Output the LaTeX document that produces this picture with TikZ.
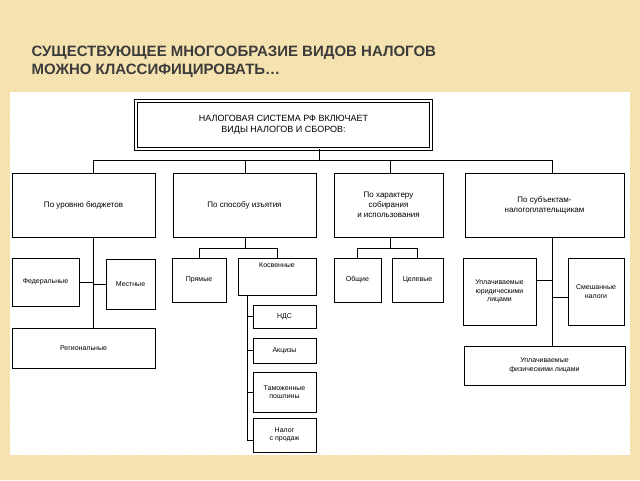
\documentclass[tikz,border=0pt]{standalone}
\usepackage{fontspec}
\setmainfont{Liberation Sans}
\usetikzlibrary{patterns,calc}
\definecolor{bg}{HTML}{F3DC9C}
\definecolor{ttl}{HTML}{3C3C3C}
\begin{document}
\begin{tikzpicture}[x=1pt,y=-1pt,
 bx/.style={draw,thick,align=center,font=\fontsize{7}{8.5}\selectfont,inner sep=1pt},
 big/.style={font=\fontsize{8}{10}\selectfont},
 ln/.style={thick}]
\useasboundingbox (0,0) rectangle (640,480);
\fill[bg] (0,0) rectangle (640,480);
\fill[pattern=north east lines,pattern color=white!60!bg] (0,0) rectangle (640,480);
\fill[white] (10,92) rectangle (630,455);
\node[anchor=west,text=ttl,font=\bfseries\fontsize{15}{18}\selectfont,align=left] (title) at (28,62) {СУЩЕСТВУЮЩЕЕ МНОГООБРАЗИЕ ВИДОВ НАЛОГОВ\\МОЖНО КЛАССИФИЦИРОВАТЬ…};
% top
\node[bx,double,double distance=1.5pt,minimum width=295pt,minimum height=48pt,font=\fontsize{9}{11}\selectfont] (top) at (283.5,125) {НАЛОГОВАЯ СИСТЕМА РФ ВКЛЮЧАЕТ\\ВИДЫ НАЛОГОВ И СБОРОВ:};
% level 1
\node[bx,big,minimum width=143pt,minimum height=64pt] (b1) at (83.5,205) {По уровню бюджетов};
\node[bx,big,minimum width=143pt,minimum height=64pt] (b2) at (244.5,205) {По способу изъятия};
\node[bx,big,minimum width=109pt,minimum height=64pt] (b3) at (388.5,205) {По характеру\\собирания\\и использования};
\node[bx,big,minimum width=159pt,minimum height=64pt] (b4) at (544.5,205) {По субъектам-\\налогоплательщикам};
\coordinate (bus) at (319,160);
\draw[ln] (top.south -| bus) -- (bus);
\draw[ln] (93,160) -- (552,160);
\draw[ln] (93,160) -- (93,173) (245,160) -- (245,173) (390,160) -- (390,173) (552,160) -- (552,173);
% box1 children
\node[bx,minimum width=67pt,minimum height=48pt] (fed) at (45.5,282) {Федеральные};
\node[bx,minimum width=49pt,minimum height=50pt] (mest) at (130.5,284) {Местные};
\node[bx,minimum width=143pt,minimum height=40pt] (reg) at (83.5,348) {Региональные};
\draw[ln] (93,237) -- (93,328);
\draw[ln] (fed.east) -- (fed.east -| 93,0);
\draw[ln] (mest.west) -- (mest.west -| 93,0);
% box2 children
\node[bx,minimum width=54pt,minimum height=44pt] (pr) at (199,280) {Прямые};
\node[bx,minimum width=78pt,minimum height=37pt,anchor=north] (kos) at (277,258) {Косвенные\\[16pt]};
\draw[ln] (245,237) -- (245,248) (199,248) -- (277,248) (199,248) -- (pr.north) (277,248) -- (kos.north);
\node[bx,minimum width=63pt,minimum height=23pt] (nds) at (284.5,316.5) {НДС};
\node[bx,minimum width=63pt,minimum height=25pt] (akc) at (284.5,350.5) {Акцизы};
\node[bx,minimum width=63pt,minimum height=40pt] (tam) at (284.5,392) {Таможенные\\пошлины};
\node[bx,minimum width=63pt,minimum height=34pt] (nal) at (284.5,435) {Налог\\с продаж};
\draw[ln] (247,295) -- (247,440);
\foreach \n in {nds,akc,tam} \draw[ln] (\n.west) -- (\n.west -| 247,0);
\draw[ln] (247,440) -- (nal.west |- 0,440);
% box3 children
\node[bx,minimum width=47pt,minimum height=44pt] (ob) at (357.5,280) {Общие};
\node[bx,minimum width=51pt,minimum height=44pt] (cel) at (417.5,280) {Целевые};
\draw[ln] (390,237) -- (390,248) (357.5,248) -- (417.5,248) (357.5,248) -- (ob.north) (417.5,248) -- (cel.north);
% box4 children
\node[bx,minimum width=73pt,minimum height=67pt] (ur) at (499.5,291.5) {Уплачиваемые\\юридическими\\лицами};
\node[bx,minimum width=56pt,minimum height=67pt] (sm) at (596,291.5) {Смешанные\\налоги};
\node[bx,minimum width=161pt,minimum height=39pt] (fiz) at (544.5,365.5) {Уплачиваемые\\физическими лицами};
\draw[ln] (552,237) -- (fiz.north -| 552,0);
\draw[ln] (536,280) -- (552,280) (552,297) -- (568,297);
\end{tikzpicture}
\end{document}
